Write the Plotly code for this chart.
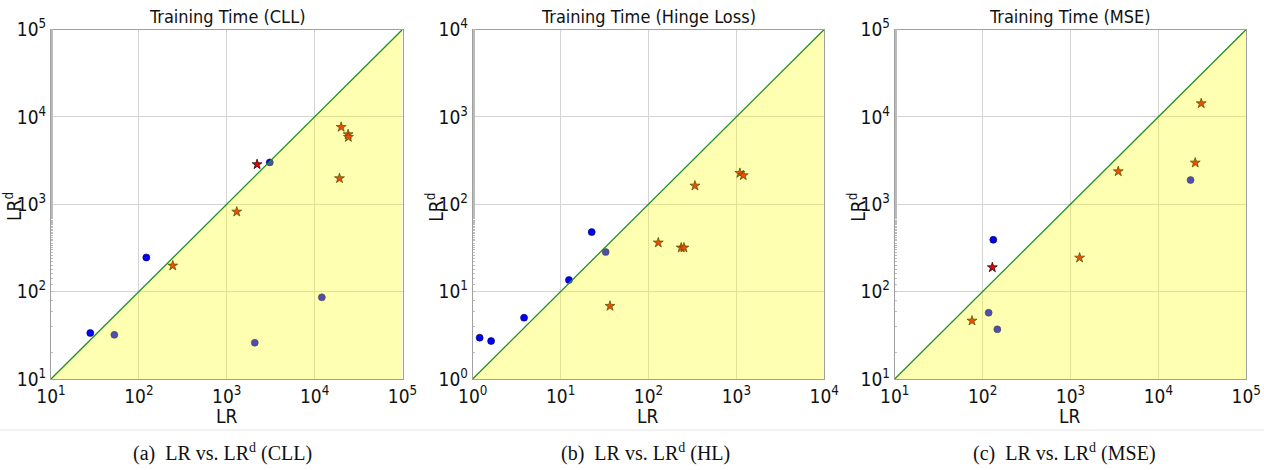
import plotly.graph_objects as go

W, H = 1264, 470

# ---- data ----
titles = ["Training Time (CLL)", "Training Time (Hinge Loss)", "Training Time (MSE)"]
captions = ["(a)  LR vs. LR<sup>d</sup> (CLL)", "(b)  LR vs. LR<sup>d</sup> (HL)", "(c)  LR vs. LR<sup>d</sup> (MSE)"]
log_ranges = [(1, 5), (0, 4), (1, 5)]

cll_circle_x = [28, 52.6, 121.6, 3090, 2084, 12080]
cll_circle_y = [33.6, 32, 246, 3013, 26, 86]
cll_star_x = [243, 1300, 2213, 20050, 24050, 24250, 19190]
cll_star_y = [198, 820, 2858, 7640, 6300, 5860, 1977]

hl_circle_x = [1.20, 1.62, 3.84, 12.46, 22.6, 32.6]
hl_circle_y = [2.97, 2.72, 5.03, 13.57, 48, 28.4]
hl_star_x = [36.5, 129.4, 236, 253.5, 338, 1099, 1199]
hl_star_y = [6.84, 36.3, 31.8, 31.8, 162.8, 227, 213.8]

mse_circle_x = [117.2, 147.2, 132.4, 23280]
mse_circle_y = [57.4, 37.0, 392, 1890]
mse_star_x = [75.8, 129.2, 1271, 3499, 26300, 30760]
mse_star_y = [46.4, 189, 244, 2374, 2984, 14240]

panels = [
    (cll_circle_x, cll_circle_y, cll_star_x, cll_star_y),
    (hl_circle_x, hl_circle_y, hl_star_x, hl_star_y),
    (mse_circle_x, mse_circle_y, mse_star_x, mse_star_y),
]

# ---- layout geometry (pixels) ----
x_left = [51, 472.7, 894.7]
plot_w = 351.5
y_top, y_bot = 29.5, 379

NARROW = "DejaVu Sans Condensed"
SERIF = "Liberation Serif, Times New Roman, serif"

fig = go.Figure()
layout = dict(
    width=W, height=H, margin=dict(l=0, r=0, t=0, b=0, autoexpand=False),
    paper_bgcolor="white", plot_bgcolor="white", showlegend=False,
    annotations=[], shapes=[],
)

def px_x(p):
    return p / W

def px_y(p):
    return 1 - p / H

for i, (cx, cy, sx, sy) in enumerate(panels):
    n = "" if i == 0 else str(i + 1)
    xa, ya = "x" + n, "y" + n
    lo, hi = log_ranges[i]
    vlo, vhi = 10 ** lo, 10 ** hi

    fig.add_trace(go.Scatter(
        x=cx, y=cy, mode="markers", xaxis=xa, yaxis=ya,
        marker=dict(symbol="circle", size=7, color="#0000ff",
                    line=dict(color="#000050", width=0.6)),
        hoverinfo="skip"))
    fig.add_trace(go.Scatter(
        x=sx, y=sy, mode="markers", xaxis=xa, yaxis=ya,
        marker=dict(symbol="star", size=7.5, color="#ee0000",
                    line=dict(color="#000000", width=0.7)),
        hoverinfo="skip"))
    # translucent yellow region below the diagonal (drawn over the markers)
    fig.add_trace(go.Scatter(
        x=[vlo, vhi, vhi, vlo], y=[vlo, vhi, vlo, vlo], mode="lines",
        fill="toself", fillcolor="rgba(255,255,0,0.30)",
        line=dict(width=0), xaxis=xa, yaxis=ya, hoverinfo="skip"))
    # diagonal y = x
    fig.add_trace(go.Scatter(
        x=[vlo, vhi], y=[vlo, vhi], mode="lines",
        line=dict(color="#1f8f1f", width=1.3), xaxis=xa, yaxis=ya,
        hoverinfo="skip"))

    tickvals = [10 ** k for k in range(lo, hi + 1)]
    ticktext = ["10<sup>%d</sup>" % k for k in range(lo, hi + 1)]
    dom_x = [px_x(x_left[i]), px_x(x_left[i] + plot_w)]
    dom_y = [px_y(y_bot), px_y(y_top)]
    common = dict(
        type="log", range=[lo, hi], tickvals=tickvals, ticktext=ticktext,
        showgrid=True, gridcolor="#d4d4d4", gridwidth=1,
        showline=True, linecolor="#a0a0a0", linewidth=1, mirror=True,
        ticks="", zeroline=False, automargin=False,
        tickfont=dict(family=NARROW, size=19, color="#111"),
    )
    layout["xaxis" + n] = dict(common, domain=dom_x, anchor=ya)
    layout["yaxis" + n] = dict(common, domain=dom_y, anchor=xa, ticklabelstandoff=0,
                               minor=dict(ticks="inside", ticklen=2, tickwidth=0.5,
                                          tickcolor="#bbbbbb", showgrid=False))

    cxp = x_left[i] + plot_w / 2
    layout["annotations"] += [
        dict(text=titles[i], x=px_x(cxp), y=px_y(16), xref="paper", yref="paper",
             showarrow=False, xanchor="center", yanchor="middle",
             font=dict(family=NARROW, size=18, color="#111")),
        dict(text="LR", x=px_x(cxp), y=px_y(416), xref="paper", yref="paper",
             showarrow=False, xanchor="center", yanchor="middle",
             font=dict(family=NARROW, size=19, color="#111")),
        dict(text="LR<sup>d</sup>", x=px_x(x_left[i] - 38), y=px_y(207),
             xref="paper", yref="paper", textangle=-90,
             showarrow=False, xanchor="center", yanchor="middle",
             font=dict(family=NARROW, size=19, color="#111")),
    ]

caption_cx = [222, 645, 1064]
for i, c in enumerate(captions):
    layout["annotations"].append(
        dict(text=c, x=px_x(caption_cx[i]), y=px_y(452), xref="paper", yref="paper",
             showarrow=False, xanchor="center", yanchor="middle",
             font=dict(family=SERIF, size=20, color="#111")))

layout["shapes"].append(dict(type="line", xref="paper", yref="paper",
                             x0=0, x1=1, y0=px_y(430), y1=px_y(430),
                             line=dict(color="#e4e4e4", width=1)))

fig.update_layout(**layout)
fig.write_html("out.html")
